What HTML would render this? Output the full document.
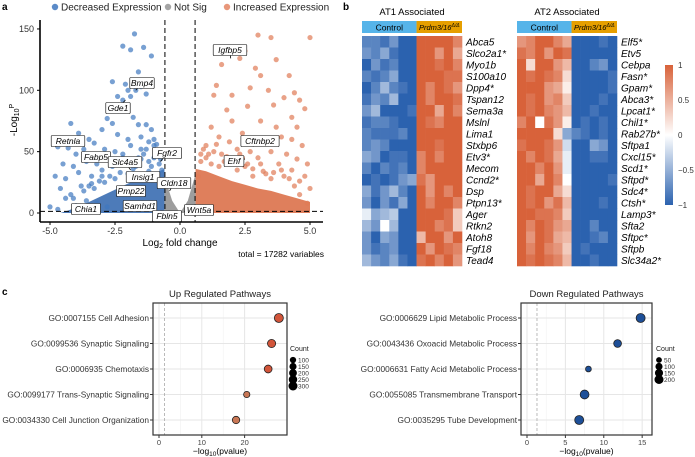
<!DOCTYPE html>
<html><head><meta charset="utf-8">
<style>
html,body{margin:0;padding:0;background:#fff;}
svg{display:block;font-family:"Liberation Sans",sans-serif;}
</style></head>
<body>
<svg id="fig" width="695" height="457" viewBox="0 0 695 457" xmlns="http://www.w3.org/2000/svg">
<defs>
<linearGradient id="cbar" x1="0" y1="0" x2="0" y2="1">
<stop offset="0" stop-color="#d8623a"/><stop offset="0.5" stop-color="#ffffff"/><stop offset="1" stop-color="#2b62af"/>
</linearGradient>
</defs>
<text x="2" y="10" font-size="10" font-weight="bold">a</text>
<text x="343" y="10" font-size="10" font-weight="bold">b</text>
<text x="2" y="295" font-size="10" font-weight="bold">c</text>
<g id="volcano"></g>
<g id="heat"></g>
<g id="dots"></g>
</svg>
<script>
const NS="http://www.w3.org/2000/svg";
function mk(parent,tag,attrs,txt){const e=document.createElementNS(NS,tag);for(const k in attrs)e.setAttribute(k,attrs[k]);if(txt!==undefined)e.textContent=txt;parent.appendChild(e);return e;}

// ---------- Volcano data ----------
const blueFC=[-1.75,-2.2,-1.9,-1.4,-1.1,-1.6,-2.6,-2.1,-2.0,-1.7,-1.5,-2.4,-2.2,-1.9,-1.3,-2.8,-2.6,-1.8,-1.6,-1.3,-1.1,-4.2,-3.9,-3.5,-3.0,-2.4,-2.0,-1.5,-1.2,-1.0,-4.7,-4.3,-4.0,-3.7,-3.3,-2.9,-2.5,-2.2,-1.9,-1.5,-0.9,-4.5,-4.1,-3.6,-3.2,-2.8,-4.8,-4.4,-3.9,-3.4,-3.0,-2.6,-4.6,-4.2,-3.8,-3.3,-5.0,-4.7,-4.4,-4.0,-3.6,-3.2,-2.8,-0.8,-0.7,-1.2,-1.6,-2.0,
 -1.4,-1.0,-0.8,-1.8,-2.3,-2.7,-3.1,-3.5,-1.1,-1.3,-0.9,-2.1,-2.5,-2.9,-3.7,-4.1,-1.7,-1.2,-0.75,-2.0,-2.4,-1.5,-1.0,-3.0,-3.4,-2.2];
const blueP=[146,136,133,135,128,115,107,105,100,100,103,95,92,95,97,77,73,78,72,72,68,73,65,60,68,64,60,62,58,55,54,53,48,52,57,52,50,48,55,52,50,40,38,42,40,45,30,28,33,30,35,38,20,15,22,20,5,3,12,6,10,8,5,40,35,42,45,42,
 48,45,46,36,33,30,26,22,38,52,56,40,28,25,18,12,38,34,44,32,40,44,60,30,24,45];
const redFC=[1.6,2.3,2.5,3.0,3.5,5.0,3.7,2.9,3.1,1.4,2.7,4.2,4.4,3.4,2.0,1.3,4.0,4.6,3.6,2.6,1.8,4.8,4.3,3.1,2.0,1.2,3.7,4.5,2.4,3.9,4.3,1.5,2.9,3.3,4.7,1.0,2.2,3.5,4.1,4.9,4.5,3.0,1.8,1.1,0.8,2.6,3.8,4.3,4.8,5.0,4.6,4.9,0.7,4.0,3.3,2.2,1.5,
 1.0,1.3,1.7,2.1,2.5,2.8,3.2,3.6,4.2,4.6,0.9,1.2,1.6,2.0,2.4,2.8,3.1,3.5,3.9,4.4,1.4,1.9,2.3,2.7,0.8];
const redP=[121,126,132,145,143,143,125,118,112,104,102,112,98,100,96,96,94,92,88,87,84,85,78,75,75,70,70,70,65,62,60,62,60,58,55,55,52,50,48,40,44,45,46,48,42,40,40,35,30,20,15,8,30,30,32,35,38,
 45,50,42,44,38,36,34,33,28,26,52,40,48,40,45,30,40,28,35,22,56,58,48,50,48];
const blueCloudFC=[-0.6,-0.6,-0.9,-1.3,-1.8,-2.3,-2.8,-3.3,-3.8,-4.3,-4.6];
const blueCloudP=[0,36,33,30,26,21,16,11,6,2,0];
const redCloudFC=[0.6,0.6,1.0,1.5,2.0,2.5,3.0,3.5,4.0,4.5,5.0,5.0];
const redCloudP=[0,36,34,30,26,23,20,18,15,12,9,0];
const greyFC=[-0.6,-0.3,0,0.3,0.6,0.6,-0.6];
const greyP=[30,10,0,10,32,0,0];
const labelNames=["Igfbp5","Bmp4","Gde1","Retnla","Fabp5","Slc4a5","Fgfr2","Insig1","Cldn18","Pmp22","Samhd1","Chia1","Fbln5","Wnt5a","Cftnbp2","Ehf"];
const labelFC=[1.95,-1.7,-2.1,-4.8,-2.8,-1.9,-0.75,-1.3,-0.4,-1.8,-1.8,-3.3,-0.7,1.0,2.8,2.5];
const labelP=[126,100,92,54,42,35,42,30,18,18,5,5,2,5,54,44];
const labelBoxX=[230,142,118,68,96,125,167,143,174,131,140,86,167,199,260,234];
const labelBoxY=[50,83,108,141,157,162,153,177,183,191,206,209,216,210,141,161];
const xTicksV=[-5.0,-2.5,0.0,2.5,5.0];
const yTicksV=[0,50,100,150];

const vx=v=>180+v*26;
const vy=v=>213-v*1.227;
const V=document.getElementById('volcano');
mk(V,'line',{x1:40,y1:20,x2:40,y2:222,stroke:'#000','stroke-width':1.6,});
mk(V,'line',{x1:40,y1:222,x2:323,y2:222,stroke:'#000','stroke-width':1.6,});
xTicksV.forEach(t=>{mk(V,'line',{x1:vx(t),y1:222,x2:vx(t),y2:225,stroke:'#000'});
 const e=mk(V,'text',{x:vx(t),y:234,'font-size':9,'text-anchor':'middle',fill:'#333'},t.toFixed(1));
 
 });
yTicksV.forEach(t=>{mk(V,'line',{x1:37,y1:vy(t),x2:40,y2:vy(t),stroke:'#000'});
 const e=mk(V,'text',{x:34,y:vy(t)+3,'font-size':9,'text-anchor':'end',fill:'#333'},t);
 
 });
function poly(fc,p,fill,name){const pts=fc.map((f,i)=>vx(f)+','+vy(p[i])).join(' ');const e=mk(V,'polygon',{points:pts,fill:fill,'fill-opacity':0.85});
 
 }
poly(greyFC,greyP,'#8c8c8c','not-sig-cloud');
poly(blueCloudFC,blueCloudP,'#2e64ad','decreased-cloud');
poly(redCloudFC,redCloudP,'#d9683f','increased-cloud');
blueFC.forEach((f,i)=>{const c=mk(V,'circle',{cx:vx(f),cy:vy(blueP[i]),r:2.6,fill:'#3f78bf','fill-opacity':0.7});
 
 });
redFC.forEach((f,i)=>{const c=mk(V,'circle',{cx:vx(f),cy:vy(redP[i]),r:2.6,fill:'#e07a55','fill-opacity':0.7});
 
 });
[-0.58,0.58].forEach(t=>mk(V,'line',{x1:vx(t),y1:20,x2:vx(t),y2:222,stroke:'#000','stroke-width':1,'stroke-dasharray':'5,3'}));
mk(V,'line',{x1:40,y1:vy(1.3),x2:323,y2:vy(1.3),stroke:'#000','stroke-width':1,'stroke-dasharray':'5,3'});
labelNames.forEach((n,i)=>{
 const bx=labelBoxX[i],by=labelBoxY[i],w=n.length*4.6+6;
 mk(V,'line',{x1:bx,y1:by,x2:vx(labelFC[i]),y2:vy(labelP[i]),stroke:'#000','stroke-width':0.8});
 mk(V,'rect',{x:bx-w/2,y:by-5.5,width:w,height:11,fill:'#fff',stroke:'#000','stroke-width':0.6,rx:1});
 const e=mk(V,'text',{x:bx,y:by+3,'font-size':8.5,'font-style':'italic','text-anchor':'middle'},n);
 
 });
[['Decreased Expression','#5b8bc8',55],['Not Sig','#a5a5a5',168],['Increased Expression','#e8977a',227]].forEach(l=>{
 mk(V,'circle',{cx:l[2],cy:7,r:3.2,fill:l[1]});
 const e=mk(V,'text',{x:l[2]+6,y:10.5,'font-size':10,fill:'#222'},l[0]);
 
 });
const yl=mk(V,'text',{x:0,y:0,'font-size':10,'text-anchor':'middle',transform:'translate(17,120) rotate(-90)'});
yl.innerHTML='-Log<tspan font-size="7" dy="2">10</tspan><tspan dy="-5" font-size="7">P</tspan>';


const xl=mk(V,'text',{x:180,y:246,'font-size':10,'text-anchor':'middle'});
xl.innerHTML='Log<tspan font-size="7" dy="2">2</tspan><tspan dy="-2"> fold change</tspan>';


const tot=mk(V,'text',{x:324,y:257,'font-size':8.5,'text-anchor':'end'},'total = 17282 variables');



// ---------- Heatmaps ----------
const at1Genes=["Abca5","Slco2a1*","Myo1b","S100a10","Dpp4*","Tspan12","Sema3a","Mslnl","Lima1","Stxbp6","Etv3*","Mecom","Ccnd2*","Dsp","Ptpn13*","Ager","Rtkn2","Atoh8","Fgf18","Tead4"];
const at1Values=[
[-.7,-.7,-.8,-.6,-.9,-.9,.9,.9,.9,.9,.7],
[-.6,-.7,-.5,-.8,-.9,-.9,.9,.9,.6,.9,.5],
[-.9,-.6,-.8,-.7,-.9,-.9,.9,.9,.8,.9,.7],
[-.7,-.8,-.7,-.5,-.9,-.9,.9,.9,.9,.8,.8],
[-.9,-.7,-.4,-.7,-.8,-.9,.9,.7,.9,.8,.6],
[-.8,-.6,-.7,-.4,-.9,-.9,.9,.7,.9,.9,.8],
[-.6,-.4,-.9,-.9,-.9,-.8,.9,.9,.5,.9,.7],
[-.8,-.7,-.7,-.8,-.9,-.9,.9,.8,.7,.9,.9],
[-.7,-.8,-.8,-.8,-.7,-.9,.9,.9,.9,.9,.9],
[-.7,-.6,-.7,-.9,-.9,-.9,.9,.9,.8,.9,.9],
[-.5,-.6,-.9,-.8,-.8,-.9,.7,.9,.7,.9,.9],
[-.7,-.9,-.7,-.8,-.7,-.9,.7,.9,.9,.9,.9],
[-.9,-.8,-.9,-.8,-.6,-.5,.8,.6,.9,.9,.9],
[-.5,-.8,-.6,-.4,-.7,-.9,.9,.6,.9,.7,.9],
[-.6,-.9,-.6,-.8,-.5,-.9,.9,.7,.9,.9,.7],
[-.1,-.5,-.4,-.3,-.9,-.9,.9,.9,.9,.8,.3],
[-.4,-.6,0,-.4,-.9,-.9,.9,.9,.7,.8,.3],
[-.6,-.9,-.5,-.6,-.9,-.9,.4,.9,.9,.6,.9],
[-.6,-.8,-.7,-.6,-.9,-.9,.9,.6,.9,.8,.7],
[-.4,-.6,-.7,-.5,-.8,-.9,.8,.9,.7,.9,.6]];
const at2Genes=["Elf5*","Etv5","Cebpa","Fasn*","Gpam*","Abca3*","Lpcat1*","Chil1*","Rab27b*","Sftpa1","Cxcl15*","Scd1*","Sftpd*","Sdc4*","Ctsh*","Lamp3*","Sfta2","Sftpc*","Sftpb","Slc34a2*"];
const at2Values=[
[.6,.7,.9,.9,.7,.5,-.9,-.9,-.9,-.8,-.9],
[.8,.7,.9,.6,.9,.8,-.9,-.9,-.9,-.9,-.9],
[.9,.2,.9,.9,.6,.4,-.9,-.9,-.7,-.6,-.9],
[.9,.8,.9,.8,.7,.2,-.9,-.9,-.9,-.9,-.8],
[.9,.9,.9,.6,.5,.1,-.9,-.9,-.9,-.9,-.8],
[.9,.8,.9,.6,.7,.3,-.9,-.9,-.9,-.8,-.9],
[.9,.8,.9,.7,.6,.4,-.9,-.9,-.8,-.9,-.9],
[.7,.9,0,.8,.6,.1,-.9,-.8,-.9,-.8,-.9],
[.9,.9,.9,.9,.2,-.5,-.7,-.8,-.9,-.8,-.9],
[.8,.9,.9,.8,.6,-.2,-.9,-.9,-.5,-.6,-.9],
[.9,.7,.9,.8,.5,-.1,-.9,-.9,-.8,-.8,-.9],
[.9,.9,.7,.9,.6,-.1,-.9,-.9,-.9,-.9,-.9],
[.9,.9,.5,.9,.7,0,-.9,-.9,-.9,-.9,-.8],
[.9,.8,.9,.9,.5,.2,-.9,-.9,-.9,-.9,-.9],
[.9,.8,.9,.6,.8,.4,-.9,-.9,-.9,-.8,-.9],
[.9,.9,.8,.8,.7,.3,-.9,-.9,-.9,-.9,-.9],
[.9,.7,.9,.8,.6,.5,-.9,-.9,-.7,-.9,-.9],
[.9,.6,.9,.8,.5,.4,-.9,-.9,-.8,-.7,-.9],
[.9,.7,.9,.7,.6,.3,-.9,-.8,-.9,-.9,-.9],
[.9,.8,.9,.8,.7,.4,-.9,-.9,-.8,-.9,-.9]];
const colorTicks=[1,0.5,0,-0.5,-1];

function heatColor(v){const a=Math.min(1,Math.abs(v)/0.9);const t=v>=0?[216,98,58]:[43,98,175];
 const c=t.map(x=>Math.round(255+(x-255)*a));return 'rgb('+c.join(',')+')';}
const H=document.getElementById('heat');
function heatmap(x0,title,genes,vals,name){
 const ncol=11,nctl=6,cw=100/ncol,rh=11.5,y0=36;
 const t=mk(H,'text',{x:x0+50,y:15,'font-size':9.5,'text-anchor':'middle'},title);
 
 
 mk(H,'rect',{x:x0,y:21,width:cw*nctl,height:12,fill:'#56b4e9'});
 mk(H,'rect',{x:x0+cw*nctl,y:21,width:cw*(ncol-nctl),height:12,fill:'#e69f00'});
 mk(H,'text',{x:x0+cw*nctl/2,y:30.5,'font-size':8.5,'text-anchor':'middle'},'Control');
 const p=mk(H,'text',{x:x0+cw*nctl+cw*(ncol-nctl)/2,y:30,'font-size':7.5,'font-style':'italic','text-anchor':'middle'});
 p.innerHTML='Prdm3/16<tspan font-size="5" dy="-3">Δ/Δ</tspan>';
 vals.forEach((row,r)=>row.forEach((v,c)=>{const e=mk(H,'rect',{x:x0+c*cw,y:y0+r*rh,width:cw+0.3,height:rh+0.3,fill:heatColor(v)});
  
  }));
 genes.forEach((g,r)=>{const e=mk(H,'text',{x:x0+104,y:y0+r*rh+9.5,'font-size':10,'font-style':'italic'},g);
  
  });
}
heatmap(362,'AT1 Associated',at1Genes,at1Values,'at1-heatmap');
heatmap(517,'AT2 Associated',at2Genes,at2Values,'at2-heatmap');
const cb=mk(H,'rect',{x:665,y:65,width:8,height:140,fill:'url(#cbar)'});


colorTicks.forEach(t=>{const y=135-t*70;
 const e=mk(H,'text',{x:678,y:y+3,'font-size':8,fill:'#333'},t===-1?'−1':t===-0.5?'−0.5':String(t));
 
 });

// ---------- Pathway dot plots ----------
const upTerms=["GO:0007155 Cell Adhesion","GO:0099536 Synaptic Signaling","GO:0006935 Chemotaxis","GO:0099177 Trans-Synaptic Signaling","GO:0034330  Cell Junction Organization"];
const upLogP=[28,26.3,25.5,20.5,18];
const upCount=[300,230,200,100,170];
const upTicks=[0,10,20];
const upLegend=[100,150,200,250,300];
const downTerms=["GO:0006629  Lipid Metabolic Process","GO:0043436  Oxoacid  Metabolic Process","GO:0006631 Fatty Acid Metabolic Process","GO:0055085 Transmembrane Transport","GO:0035295 Tube Development"];
const downLogP=[14.8,11.8,8,7.5,6.8];
const downCount=[200,130,50,190,200];
const downTicks=[0,5,10,15];
const downLegend=[50,100,150,200];

const D=document.getElementById('dots');
function dotplot(o){
 const {x0,x1,y0,y1,title,terms,vals,counts,ticks,xmin,xmax,leg,cmax,colorLo,colorHi,name,legX}=o;
 const sx=v=>x0+6+(v-xmin)/(xmax-xmin)*(x1-x0-12);
 const rowY=i=>y0+15+i*25.5;
 const rs=c=>1.3+Math.sqrt(c/cmax)*3.2;
 mk(D,'rect',{x:x0,y:y0,width:x1-x0,height:y1-y0,fill:'#fff'});
 ticks.forEach(t=>mk(D,'line',{x1:sx(t),y1:y0,x2:sx(t),y2:y1,stroke:'#e6e6e6','stroke-width':1}));
 for(let i=0;i<ticks.length-1;i++){const m=(ticks[i]+ticks[i+1])/2;mk(D,'line',{x1:sx(m),y1:y0,x2:sx(m),y2:y1,stroke:'#f0f0f0','stroke-width':0.6});}
 terms.forEach((t,i)=>mk(D,'line',{x1:x0,y1:rowY(i),x2:x1,y2:rowY(i),stroke:'#e6e6e6','stroke-width':1}));
 mk(D,'line',{x1:sx(1.3),y1:y0,x2:sx(1.3),y2:y1,stroke:'#aaa','stroke-dasharray':'3,2','stroke-width':0.8});
 mk(D,'rect',{x:x0,y:y0,width:x1-x0,height:y1-y0,fill:'none',stroke:'#333','stroke-width':1.2});
 const tt=mk(D,'text',{x:(x0+x1)/2,y:y0-6,'font-size':9.5,'text-anchor':'middle',fill:'#222'},title);
 
 
 terms.forEach((t,i)=>{mk(D,'line',{x1:x0-3,y1:rowY(i),x2:x0,y2:rowY(i),stroke:'#333'});
  const e=mk(D,'text',{x:x0-4,y:rowY(i)+3,'font-size':8.3,'text-anchor':'end',fill:'#333'},t);
  
  });
 ticks.forEach(t=>{mk(D,'line',{x1:sx(t),y1:y1,x2:sx(t),y2:y1+3,stroke:'#333'});
  const e=mk(D,'text',{x:sx(t),y:y1+10,'font-size':7.5,'text-anchor':'middle',fill:'#444'},t);
  
  });
 const xt=mk(D,'text',{x:(x0+x1)/2,y:y1+19,'font-size':8.5,'text-anchor':'middle'});
 xt.innerHTML='−log<tspan font-size="6.5" dy="2">10</tspan><tspan dy="-2">(pvalue)</tspan>';
 
 
 vals.forEach((v,i)=>{const f=Math.min(1,(v-xmin)/(xmax-xmin));
  const c=mk(D,'circle',{cx:sx(v),cy:rowY(i),r:rs(counts[i]),fill:f>0.8?colorHi:colorLo,stroke:'#222','stroke-width':0.8});
  
  });
 mk(D,'text',{x:legX,y:y0+48,'font-size':7,fill:'#222'},'Count');
 leg.forEach((c,i)=>{const y=y0+57+i*6.5;mk(D,'circle',{cx:legX+3,cy:y,r:rs(c),fill:'#000'});
  const e=mk(D,'text',{x:legX+8,y:y+2.5,'font-size':6.5,fill:'#333'},c);
  
  });
}
dotplot({x0:153,x1:287,y0:303,y1:435,title:'Up Regulated Pathways',terms:upTerms,vals:upLogP,counts:upCount,ticks:upTicks,xmin:0,xmax:28.5,leg:upLegend,cmax:300,colorLo:'#c97755',colorHi:'#d2553a',name:'up-pathways',legX:290});
dotplot({x0:521,x1:652,y0:303,y1:435,title:'Down Regulated Pathways',terms:downTerms,vals:downLogP,counts:downCount,ticks:downTicks,xmin:0,xmax:15.5,leg:downLegend,cmax:200,colorLo:'#1d4f98',colorHi:'#1d4f98',name:'down-pathways',legX:656});
</script>
</body></html>
